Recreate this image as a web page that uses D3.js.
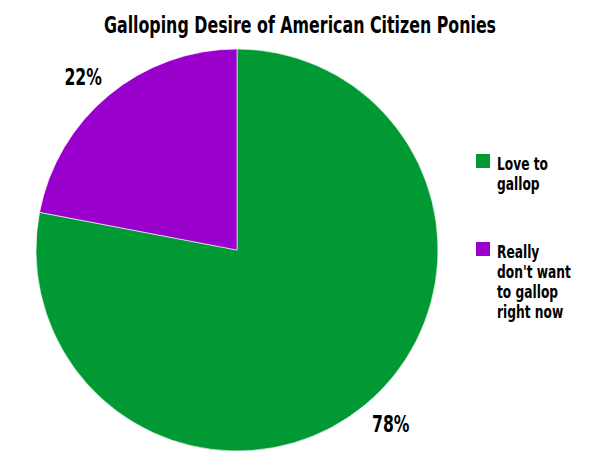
<!DOCTYPE html>
<html>
<head>
<meta charset="utf-8">
<script src="https://cdn.jsdelivr.net/npm/d3@7"></script>
<style>
  body { margin: 0; background: #fff; }
  text { font-family: Impact, 'DejaVu Sans Condensed', 'DejaVu Sans', sans-serif; font-stretch: condensed; font-weight: bold; fill: #000; }
  text.probe { font-family: 'DejaVu Sans', sans-serif; font-stretch: normal; }
</style>
</head>
<body>
<svg id="chart"></svg>
<script>
let categories = ['Love to gallop', "Really don't want to gallop right now"];
let legendLines = [['Love to', 'gallop'], ['Really', "don't want", 'to gallop', 'right now']];
let values = [78, 22];
let colors = ['#009933', '#9900cc'];

let width = 600;
let height = 463;
let cx = 237, cy = 250, radius = 201;

let svg = d3.select('#chart').attr('width', width).attr('height', height);

// how much narrower the condensed face is than plain DejaVu Sans Bold
let probeText = 'Galloping Desire of American Citizen Ponies';
let p1 = svg.append('text').attr('font-size', '24px').text(probeText);
let p2 = svg.append('text').attr('class', 'probe').attr('font-size', '24px').text(probeText);
let ratio = p2.node().getComputedTextLength() / p1.node().getComputedTextLength();
p1.remove();
p2.remove();
// squeeze further so it reads like Impact
let condense = 0.68 * ratio;

// title: squeezed with a horizontal scale
svg.append('g')
  .attr('transform', `translate(300,33) scale(${condense},1)`)
  .append('text')
  .attr('text-anchor', 'middle')
  .attr('font-size', '23.3px')
  .text('Galloping Desire of American Citizen Ponies');

let pie = d3.pie().sort(null).value(d => d);
let arcs = pie(values);

let arc = d3.arc().innerRadius(0).outerRadius(radius);
let labelArc = d3.arc().innerRadius(232).outerRadius(232);

let g = svg.append('g').attr('transform', `translate(${cx},${cy})`);

g.selectAll('path')
  .data(arcs)
  .enter().append('path')
  .attr('d', arc)
  .attr('fill', (d, i) => colors[i])
  .attr('stroke', '#fff')
  .attr('stroke-width', 0.6);

// percentage labels, slightly flattened placement like the original
g.selectAll('text')
  .data(arcs)
  .enter().append('text')
  .attr('class', 'squeeze')
  .attr('transform', d => {
    let [x, y] = labelArc.centroid(d);
    return `translate(${x * 1.04},${y * 0.97})`;
  })
  .attr('text-anchor', 'middle')
  .attr('dy', '0.36em')
  .attr('font-size', '23px')
  .text(d => d3.format('.0f')(d.data) + '%');

// legend
let legend = svg.append('g').attr('transform', 'translate(476,154)');
let legendY = d3.scaleOrdinal().domain(categories).range([0, 88]);

let item = legend.selectAll('g')
  .data(categories)
  .enter().append('g')
  .attr('transform', d => `translate(0,${legendY(d)})`);

item.append('rect')
  .attr('width', 14)
  .attr('height', 14)
  .attr('fill', (d, i) => colors[i]);

item.selectAll('text')
  .data((d, i) => legendLines[i])
  .enter().append('text')
  .attr('class', 'squeeze')
  .attr('x', 21)
  .attr('y', (d, j) => 16 + j * 20)
  .attr('font-size', '18px')
  .text(d => d);

svg.selectAll('text.squeeze').each(function() {
  let w = this.getComputedTextLength();
  d3.select(this)
    .attr('textLength', w * condense)
    .attr('lengthAdjust', 'spacingAndGlyphs');
});
</script>
</body>
</html>
